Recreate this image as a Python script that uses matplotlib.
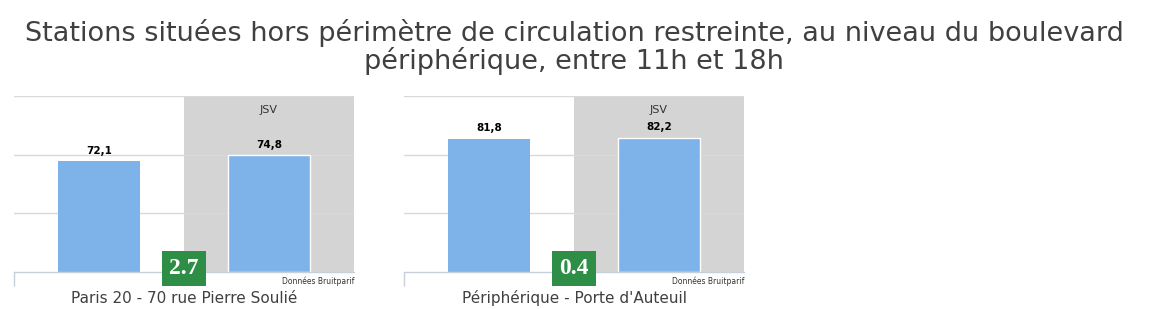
import matplotlib
matplotlib.use("Agg")
import matplotlib.pyplot as plt
import matplotlib.transforms as mtransforms

# chart data
STATIONS = ["Paris 20 - 70 rue Pierre Soulié", "Périphérique - Porte d'Auteuil"]
PERIODS = ["avant", "JSV"]
VALUES = [[72.1, 74.8], [81.8, 82.2]]
TITLE = ("Stations situées hors périmètre de circulation restreinte, au niveau du boulevard\n"
         "périphérique, entre 11h et 18h")
SOURCE = "Données Bruitparif"
Y_MIN = 25

BAR_COLOR = "#7db3e8"
SHADE = "#d4d4d4"
GRID = "#d9d9d9"
AXIS = "#c5d0dc"
BOX_GREEN = "#2f8e45"
TEXT = "#404040"

W, H = 1164, 309
fig = plt.figure(figsize=(W / 100, H / 100), dpi=100)

fig.text(574 / W, 1 - 47 / H, TITLE, ha="center", va="center", fontsize=19.5,
         color=TEXT, linespacing=1.0)

lefts = [14, 404]
for left, name, vals in zip(lefts, STATIONS, VALUES):
    ax = fig.add_axes([left / W, 37 / H, 340 / W, 176 / H])
    x = list(range(len(PERIODS)))
    ax.set_xlim(-0.5, 1.5)
    ax.set_ylim(Y_MIN, 100)
    blend = mtransforms.blended_transform_factory(ax.transData, ax.transAxes)

    ax.axvspan(0.5, 1.5, color=SHADE, zorder=0, lw=0)
    ax.set_yticks([50, 75, 100])
    ax.yaxis.grid(True, color=GRID, lw=1.0, zorder=1)
    ax.set_axisbelow(True)
    ax.tick_params(axis="y", length=0, labelleft=False)

    ax.bar(x, [v - Y_MIN for v in vals], width=0.48, bottom=Y_MIN, color=BAR_COLOR,
           edgecolor=["none", "white"], lw=1.0, zorder=2)
    for xi, v in zip(x, vals):
        ax.annotate(f"{v:.1f}".replace(".", ","), (xi, v), xytext=(0, 4),
                    textcoords="offset points", ha="center", va="bottom",
                    fontsize=7.5, fontweight="bold", color="black")

    ax.text(1, 0.92, "JSV", transform=blend, ha="center", va="center",
            fontsize=8, color="#333333")

    for s in ["top", "right", "left"]:
        ax.spines[s].set_visible(False)
    ax.spines["bottom"].set_color(AXIS)
    ax.spines["bottom"].set_linewidth(1.0)
    ax.set_xticks([-0.5])
    ax.set_xticklabels([""])
    ax.tick_params(axis="x", length=10, color=AXIS, width=1.0, direction="out")

    ax.text(1.0, -0.05, SOURCE, transform=ax.transAxes, ha="right", va="center",
            fontsize=5.5, color="#333333")

    diff = vals[1] - vals[0]
    ax.text(0.5, 0.02, f"{diff:.1f}", transform=blend, ha="center", va="center",
            fontsize=17, fontweight="bold", family="Liberation Serif", color="white",
            zorder=5, bbox=dict(boxstyle="square,pad=0.3", fc=BOX_GREEN, ec="none"))

    ax.text(0.5, -0.15, name, transform=ax.transAxes, ha="center", va="center",
            fontsize=11, color=TEXT)

fig.savefig("out.png", dpi=100)
